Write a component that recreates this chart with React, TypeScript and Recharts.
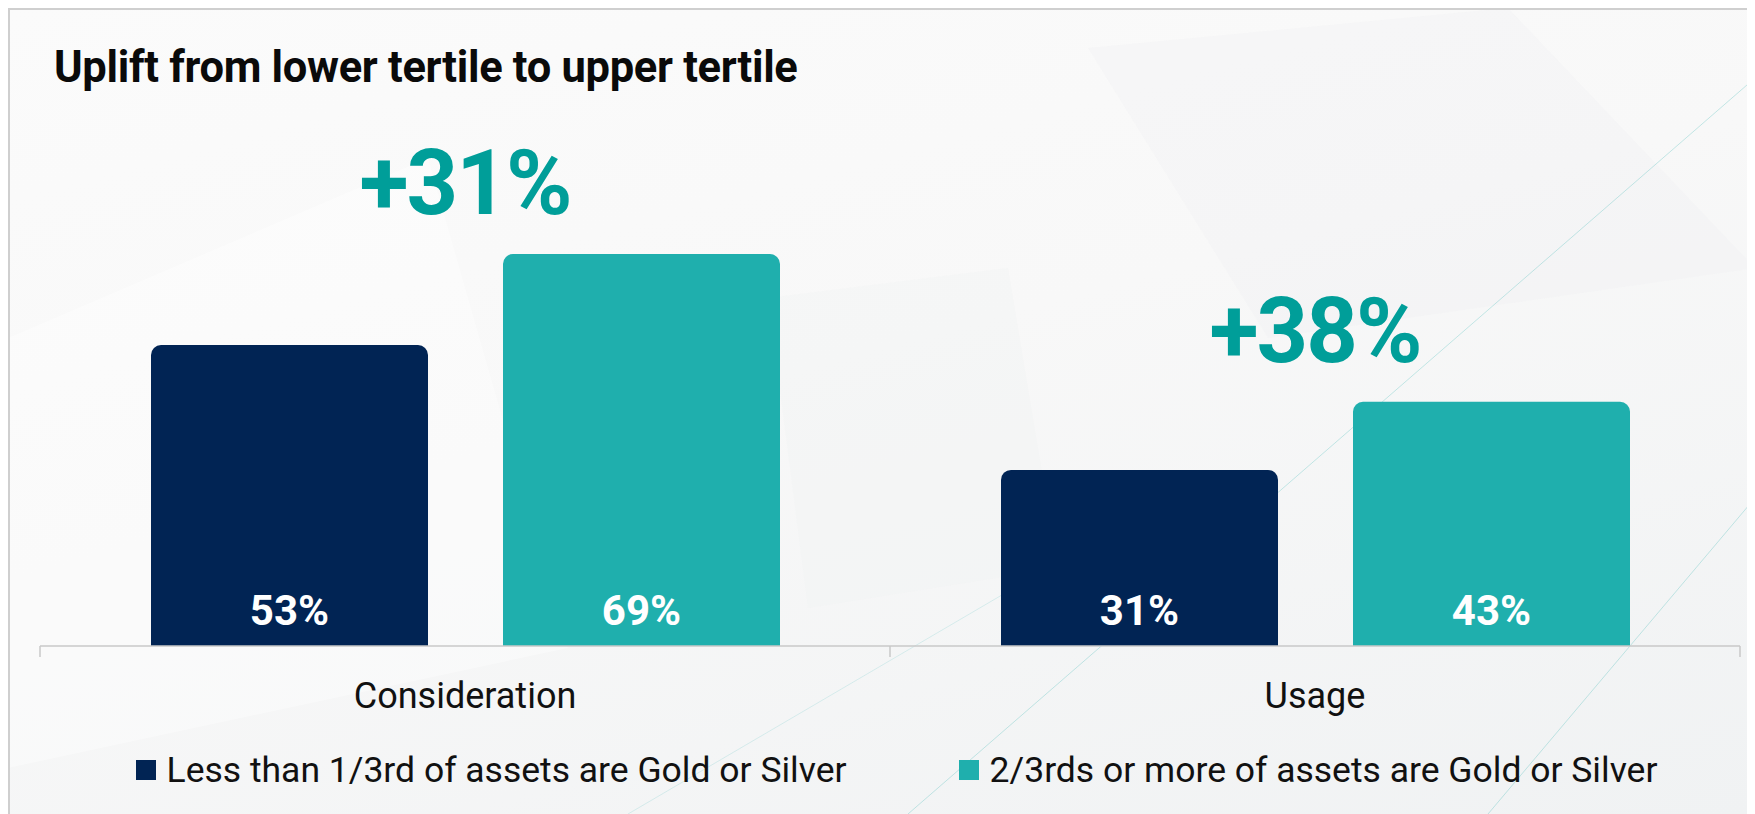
import React from "react";
import { BarChart, Bar, XAxis, YAxis, Legend, LabelList, ReferenceDot } from "recharts";

const categories = ["Consideration", "Usage"];
const lowerTertile = [53, 31];
const upperTertile = [69, 43];
const upliftLabels = ["+31%", "+38%"];
const seriesNames = [
  "Less than 1/3rd of assets are Gold or Silver",
  "2/3rds or more of assets are Gold or Silver",
];

const NAVY = "#012454";
const TEAL = "#1fafad";
const TEAL_DARK = "#009e99";
const FONT = "Roboto, 'Open Sans', sans-serif";

const W = 1747;
const H = 806;

const data = categories.map((c, i) => ({
  category: c,
  lower: lowerTertile[i],
  upper: upperTertile[i],
  uplift: upliftLabels[i],
}));

const ValueLabel = (props: any) => {
  const { x, y, width, height, value } = props;
  return (
    <text
      x={x + width / 2}
      y={y + height - 21}
      textAnchor="middle"
      fill="#ffffff"
      fontSize={42}
      fontWeight={700}
      fontFamily={FONT}
    >
      {value}%
    </text>
  );
};

const UpliftLabel = (props: any) => {
  const { viewBox, text } = props;
  if (!viewBox) return null;
  return (
    <text
      x={viewBox.x}
      y={viewBox.y - 40}
      textAnchor="middle"
      fill={TEAL_DARK}
      fontSize={90}
      fontWeight={700}
      fontFamily={FONT}
      letterSpacing={-2}
    >
      {text}
    </text>
  );
};

const CategoryTick = (props: any) => {
  const { x, y, payload } = props;
  const half = payload.offset || 425;
  const last = payload.index === categories.length - 1;
  return (
    <g>
      <line x1={x - half} x2={x - half} y1={y} y2={y + 11} stroke="#c8c8c8" strokeWidth={1.5} />
      {last && <line x1={x + half} x2={x + half} y1={y} y2={y + 11} stroke="#c8c8c8" strokeWidth={1.5} />}
      <text x={x} y={y + 62} textAnchor="middle" fill="#111" fontSize={36} fontFamily={FONT}>
        {payload.value}
      </text>
    </g>
  );
};

const LegendContent = (props: any) => {
  const items = [...(props.payload || [])].sort(
    (a: any, b: any) => seriesNames.indexOf(a.value) - seriesNames.indexOf(b.value)
  );
  return (
    <div
      style={{
        display: "flex",
        justifyContent: "center",
        gap: 112,
        fontFamily: FONT,
        fontSize: 35.5,
        color: "#111",
        lineHeight: "40px",
        paddingLeft: 30,
      }}
    >
      {items.map((it: any) => (
        <div key={it.value} style={{ display: "flex", alignItems: "center" }}>
          <span style={{ width: 20, height: 20, background: it.color, marginRight: 11, display: "inline-block" }} />
          {it.value}
        </div>
      ))}
    </div>
  );
};

export default function App() {
  return (
    <div
      style={{
        position: "relative",
        width: W,
        height: H,
        background: "linear-gradient(165deg, #fbfbfb 0%, #f8f8f8 45%, #f0f2f3 100%)",
        overflow: "hidden",
      }}
    >
      <svg width={W} height={H} style={{ position: "absolute", left: 0, top: 0 }}>
        <polygon points="0,330 420,150 560,640 0,760" fill="#ffffff" opacity={0.35} />
        <polygon points="1080,40 1500,0 1747,260 1260,330" fill="#eef0f1" opacity={0.3} />
        <polygon points="760,290 1000,260 1050,560 800,600" fill="#f0f2f3" opacity={0.3} />
        <line x1={900} y1={806} x2={1747} y2={70} stroke={TEAL} strokeOpacity={0.25} strokeWidth={1} />
        <line x1={1480} y1={806} x2={1747} y2={490} stroke={TEAL} strokeOpacity={0.25} strokeWidth={1} />
        <line x1={620} y1={806} x2={1040} y2={560} stroke={TEAL} strokeOpacity={0.15} strokeWidth={1} />
        <line x1={0} y1={1} x2={W} y2={1} stroke="#cfcfcf" strokeWidth={2} />
        <line x1={1} y1={0} x2={1} y2={H} stroke="#cfcfcf" strokeWidth={2} />
        <text x={46} y={74} fontSize={43.5} fontWeight={700} fill="#0a0a0a" fontFamily={FONT} letterSpacing={-0.3}>
          Uplift from lower tertile to upper tertile
        </text>
      </svg>
      <div style={{ position: "absolute", left: 0, top: 0 }}>
        <BarChart
          width={W}
          height={H}
          data={data}
          margin={{ top: 70, right: 15, left: 32, bottom: 108 }}
          barSize={277}
          barGap={75}
        >
          <XAxis
            dataKey="category"
            axisLine={{ stroke: "#c8c8c8", strokeWidth: 1.5 }}
            tickLine={false}
            tickSize={0}
            tickMargin={0}
            height={60}
            interval={0}
            tick={<CategoryTick />}
          />
          <YAxis hide domain={[0, 100]} />
          <Legend
            layout="horizontal"
            verticalAlign="middle"
            align="center"
            wrapperStyle={{ top: 742, left: 0, width: W }}
            content={<LegendContent />}
          />
          <Bar dataKey="lower" name={seriesNames[0]} fill={NAVY} radius={[10, 10, 0, 0]} isAnimationActive={false}>
            <LabelList dataKey="lower" content={<ValueLabel />} />
          </Bar>
          <Bar dataKey="upper" name={seriesNames[1]} fill={TEAL} radius={[10, 10, 0, 0]} isAnimationActive={false}>
            <LabelList dataKey="upper" content={<ValueLabel />} />
          </Bar>
          {data.map((d) => (
            <ReferenceDot
              key={d.category}
              x={d.category}
              y={d.upper}
              r={0}
              fill="none"
              stroke="none"
              label={<UpliftLabel text={d.uplift} />}
            />
          ))}
        </BarChart>
      </div>
    </div>
  );
}
